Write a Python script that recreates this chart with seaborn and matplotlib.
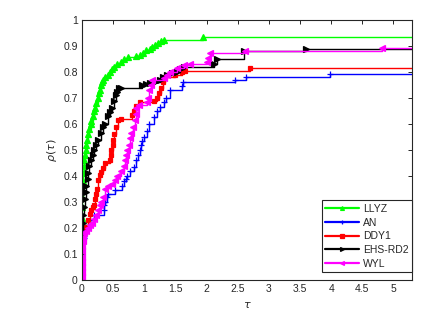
import matplotlib
matplotlib.use("Agg")
import matplotlib.pyplot as plt
import seaborn as sns
import pandas as pd

# ---- data: (tau, rho) break points of each performance profile ----
solvers = ["LLYZ", "AN", "DDY1", "EHS-RD2", "WYL"]

LLYZ = [(0, 0.01), (0, 0.04), (0, 0.08), (0, 0.12), (0, 0.16), (0, 0.2), (0, 0.24), (0, 0.28),
        (0, 0.32), (0, 0.35), (0.01, 0.38), (0.02, 0.41), (0.03, 0.44), (0.04, 0.46), (0.05, 0.48),
        (0.06, 0.5), (0.07, 0.52), (0.08, 0.54), (0.1, 0.56), (0.12, 0.58), (0.14, 0.6), (0.15, 0.61),
        (0.17, 0.63), (0.19, 0.65), (0.21, 0.66), (0.23, 0.68), (0.26, 0.7), (0.27, 0.72), (0.29, 0.73),
        (0.3, 0.75), (0.32, 0.76), (0.34, 0.77), (0.37, 0.78), (0.41, 0.79), (0.45, 0.8), (0.48, 0.81),
        (0.52, 0.82), (0.57, 0.83), (0.63, 0.84), (0.68, 0.85), (0.74, 0.857), (0.87, 0.862),
        (0.93, 0.867), (0.98, 0.875), (1.03, 0.885), (1.09, 0.89), (1.13, 0.897), (1.17, 0.904),
        (1.22, 0.91), (1.27, 0.918), (1.32, 0.925), (1.94, 0.935)]

AN = [(0, 0.01), (0, 0.04), (0, 0.07), (0, 0.1), (0, 0.13), (0.03, 0.16), (0.07, 0.19), (0.1, 0.21),
      (0.13, 0.23), (0.2, 0.25), (0.35, 0.27), (0.36, 0.29), (0.37, 0.3), (0.4, 0.32), (0.42, 0.333),
      (0.53, 0.345), (0.65, 0.36), (0.67, 0.38), (0.7, 0.39), (0.73, 0.4), (0.77, 0.42), (0.83, 0.436),
      (0.87, 0.46), (0.9, 0.48), (0.93, 0.5), (0.95, 0.52), (0.97, 0.535), (1.0, 0.55), (1.04, 0.575),
      (1.07, 0.6), (1.15, 0.628), (1.2, 0.65), (1.25, 0.665), (1.31, 0.686), (1.35, 0.7),
      (1.41, 0.73), (1.6, 0.745), (1.62, 0.76), (2.45, 0.769), (2.64, 0.782), (3.98, 0.794)]

DDY1 = [(0, 0.01), (0, 0.04), (0, 0.07), (0, 0.1), (0, 0.13), (0.01, 0.15), (0.02, 0.17), (0.04, 0.19),
        (0.06, 0.205), (0.09, 0.23), (0.13, 0.256), (0.15, 0.27), (0.17, 0.28), (0.19, 0.29),
        (0.21, 0.31), (0.23, 0.33), (0.24, 0.35), (0.26, 0.385), (0.29, 0.404), (0.31, 0.417),
        (0.34, 0.43), (0.37, 0.449), (0.45, 0.46), (0.46, 0.48), (0.47, 0.5), (0.49, 0.52), (0.5, 0.54),
        (0.52, 0.56), (0.55, 0.59), (0.58, 0.615), (0.62, 0.62), (0.8, 0.635), (0.83, 0.65),
        (0.86, 0.67), (0.93, 0.685), (1.15, 0.69), (1.2, 0.7), (1.24, 0.72), (1.27, 0.74), (1.3, 0.76),
        (1.33, 0.78), (1.5, 0.79), (1.6, 0.8), (1.65, 0.805), (2.69, 0.815)]

EHS_RD2 = [(0, 0.01), (0, 0.04), (0, 0.07), (0, 0.1), (0, 0.13), (0, 0.16), (0.01, 0.19), (0.02, 0.22),
           (0.02, 0.25), (0.03, 0.28), (0.05, 0.31), (0.06, 0.34), (0.07, 0.36), (0.09, 0.39),
           (0.1, 0.41), (0.12, 0.44), (0.14, 0.46), (0.17, 0.48), (0.2, 0.5), (0.23, 0.52), (0.26, 0.54),
           (0.31, 0.565), (0.34, 0.59), (0.37, 0.6), (0.42, 0.63), (0.45, 0.645), (0.48, 0.66),
           (0.52, 0.69), (0.54, 0.71), (0.56, 0.725), (0.59, 0.737), (0.63, 0.74), (0.96, 0.75),
           (1.02, 0.753), (1.09, 0.757), (1.17, 0.763), (1.25, 0.77), (1.3, 0.782), (1.36, 0.788),
           (1.45, 0.795), (1.52, 0.8), (1.58, 0.81), (1.63, 0.82), (2.12, 0.833), (2.17, 0.849),
           (2.6, 0.881), (3.6, 0.889)]

WYL = [(0, 0.01), (0, 0.03), (0, 0.05), (0, 0.07), (0, 0.09), (0, 0.11), (0, 0.13), (0.01, 0.15),
       (0.02, 0.165), (0.03, 0.18), (0.06, 0.19), (0.1, 0.2), (0.13, 0.21), (0.16, 0.22), (0.19, 0.235),
       (0.23, 0.25), (0.26, 0.27), (0.29, 0.29), (0.31, 0.3), (0.34, 0.32), (0.37, 0.35), (0.42, 0.36),
       (0.48, 0.37), (0.53, 0.385), (0.57, 0.4), (0.63, 0.42), (0.67, 0.44), (0.69, 0.46), (0.71, 0.48),
       (0.73, 0.5), (0.75, 0.52), (0.77, 0.545), (0.79, 0.564), (0.82, 0.59), (0.85, 0.615),
       (0.86, 0.64), (0.87, 0.66), (0.92, 0.675), (1.04, 0.686), (1.06, 0.7), (1.08, 0.73),
       (1.1, 0.75), (1.12, 0.769), (1.31, 0.776), (1.37, 0.79), (1.42, 0.801), (1.53, 0.815),
       (1.63, 0.827), (1.74, 0.833), (2.0, 0.84), (2.03, 0.855), (2.06, 0.872), (2.61, 0.881),
       (4.82, 0.891)]

x_ticks = [0, 0.5, 1, 1.5, 2, 2.5, 3, 3.5, 4, 4.5, 5]
y_ticks = [0, 0.1, 0.2, 0.3, 0.4, 0.5, 0.6, 0.7, 0.8, 0.9, 1]
tau_max = 5.3

series = {"LLYZ": LLYZ, "AN": AN, "DDY1": DDY1, "EHS-RD2": EHS_RD2, "WYL": WYL}
colors = {"LLYZ": "#00ff00", "AN": "#0000ff", "DDY1": "#ff0000", "EHS-RD2": "#000000", "WYL": "#ff00ff"}
markers = {"LLYZ": "^", "AN": "+", "DDY1": "s", "EHS-RD2": ">", "WYL": "<"}
msizes = {"LLYZ": 3.8, "AN": 3.8, "DDY1": 2.3, "EHS-RD2": 3.8, "WYL": 3.8}

sns.set_style("white")
plt.rcParams["font.family"] = ["Liberation Sans", "DejaVu Sans"]
plt.rcParams["mathtext.fontset"] = "dejavusans"

fig = plt.figure(figsize=(4.48, 3.14), dpi=100)
ax = fig.add_axes([0.183, 0.108, 0.737, 0.828])

for name in solvers:
    pts = series[name]
    # extend the last level beyond the right limit (clipped point, no visible marker)
    df = pd.DataFrame(pts + [(tau_max + 1.0, pts[-1][1])], columns=["tau", "rho"])
    sns.lineplot(data=df, x="tau", y="rho", ax=ax, estimator=None, sort=False,
                 drawstyle="steps-post", color=colors[name], marker=markers[name],
                 markersize=msizes[name], markeredgewidth=0.9, markeredgecolor=colors[name],
                 linewidth=1.0, label=name)

ax.set_xlim(0, tau_max)
ax.set_ylim(0, 1)
ax.set_xticks(x_ticks)
ax.set_xticklabels([f"{t:g}" for t in x_ticks])
ax.set_yticks(y_ticks)
ax.set_yticklabels([f"{t:g}" for t in y_ticks])
ax.tick_params(direction="in", length=3, width=0.7, labelsize=7.5, colors="#262626",
               top=True, right=True, pad=3)
for s in ax.spines.values():
    s.set_color("#262626")
    s.set_linewidth(0.8)
ax.set_xlabel(r"$\tau$", fontsize=8, color="#262626", labelpad=4)
ax.set_ylabel(r"$\rho(\tau)$", fontsize=8, color="#262626", labelpad=3)

leg = ax.legend(loc="lower right", bbox_to_anchor=(1.0, 0.03), borderaxespad=0.0,
                fontsize=7.5, frameon=True, fancybox=False, edgecolor="#262626",
                handlelength=3.2, handletextpad=0.4, labelspacing=0.35,
                borderpad=0.35, numpoints=1)
leg.get_frame().set_linewidth(0.8)
leg.get_frame().set_alpha(1)
for h in leg.get_lines():
    h.set_markersize(2.8)
    h.set_linewidth(1.6)

fig.savefig("out.png", dpi=100)
